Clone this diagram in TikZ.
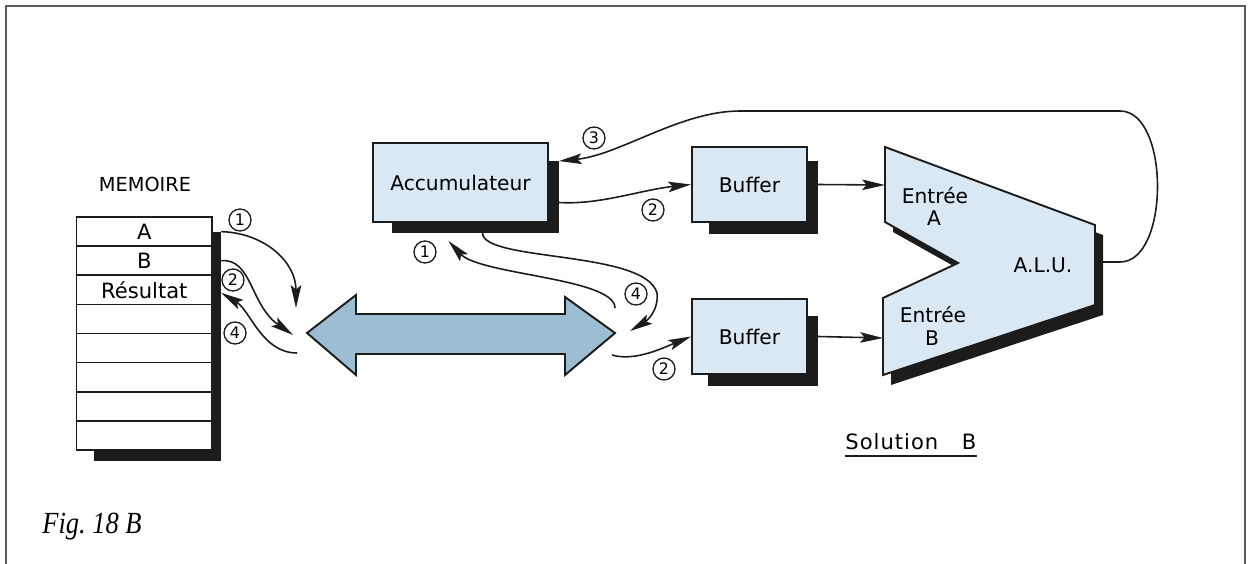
\documentclass[tikz,border=0pt]{standalone}
\usepackage{fontspec}
\setmainfont{DejaVu Sans}
\newfontfamily\capfont[FakeStretch=0.86]{Liberation Serif}
\usetikzlibrary{arrows.meta,backgrounds,calc}
\definecolor{boxblue}{RGB}{217,232,242}
\definecolor{busblue}{RGB}{157,189,211}
\definecolor{ink}{RGB}{28,28,28}
\definecolor{framegray}{RGB}{90,90,90}
\begin{document}
\begin{tikzpicture}[x=0.02cm,y=-0.02cm,
  box/.style={draw=ink, line width=1.1pt, fill=boxblue, inner sep=0pt, font=\fontsize{11.5}{13}\selectfont},
  memrow/.style={draw=ink, line width=0.9pt, fill=white, minimum width=2.72cm, minimum height=0.5825cm, inner sep=0pt, font=\fontsize{12}{14}\selectfont},
  conn/.style={draw=ink, line width=0.9pt, -{Stealth[length=13pt,width=6pt,inset=2.5pt]}},
  num/.style={circle, draw=ink, line width=0.75pt, minimum size=0.44cm, inner sep=0pt, font=\fontsize{9}{10}\selectfont},
  shade/.style={fill=ink},
  lbl/.style={inner sep=0pt, font=\fontsize{11.5}{13}\selectfont}]
\useasboundingbox (0,0) rectangle (1249,564);

% frame
\draw[framegray, line width=1pt] (6,564) -- (6,6) -- (1245,6) -- (1245,564);

% memory
\node[lbl, font=\fontsize{11}{13}\selectfont] (memtitle) at (145,184) {MEMOIRE};
\node[memrow] (memA) at (144.3,231.6) {A};
\node[memrow] (memB) at (144.3,260.7) {B};
\node[memrow] (memR) at (144.3,289.8) {Résultat};
\node[memrow] (mem4) at (144.3,319.0) {};
\node[memrow] (mem5) at (144.3,348.1) {};
\node[memrow] (mem6) at (144.3,377.2) {};
\node[memrow] (mem7) at (144.3,406.3) {};
\node[memrow] (mem8) at (144.3,435.4) {};
\begin{scope}[on background layer]
  \fill[shade] ([shift={(18,16)}]memA.north west) rectangle ([shift={(8,10)}]mem8.south east);
\end{scope}

% boxes
\node[box, minimum width=3.5cm, minimum height=1.58cm] (acc) at (460.5,182.5) {Accumulateur};
\node[box, minimum width=2.3cm, minimum height=1.5cm] (bufA) at (749.5,184.5) {Buffer};
\node[box, minimum width=2.3cm, minimum height=1.5cm] (bufB) at (749.5,336.5) {Buffer};
\begin{scope}[on background layer]
  \fill[shade] ([shift={(20,19)}]acc.north west) rectangle ([shift={(10,10)}]acc.south east);
  \fill[shade] ([shift={(18,15)}]bufA.north west) rectangle ([shift={(10,11)}]bufA.south east);
  \fill[shade] ([shift={(17,18)}]bufB.north west) rectangle ([shift={(10,11)}]bufB.south east);
\end{scope}

% ALU
\fill[shade] (893,157) -- (1103,235) -- (1103,315) -- (891,385) -- (891,308) -- (966,273) -- (893,232) -- cycle;
\draw[draw=ink, line width=1.1pt, fill=boxblue] (885,147) -- (1095,225) -- (1095,305) -- (883,375) -- (883,298) -- (958,263) -- (885,222) -- cycle;
\node[lbl] (entA) at (935,196) {Entrée};
\node[lbl] (entAl) at (934,218) {A};
\node[lbl] (alu) at (1043,265) {A.L.U.};
\node[lbl] (entB) at (933,315) {Entrée};
\node[lbl] (entBl) at (932,338) {B};
\coordinate (aluA) at (885,185);
\coordinate (aluB) at (883,338);
\coordinate (aluOut) at (1103,262);

% bus
\draw[draw=ink, line width=1.1pt, fill=busblue] (307,333) -- (356,295) -- (356,314) -- (565,314) -- (565,297) -- (615,333) -- (565,375) -- (565,354) -- (356,354) -- (356,375) -- cycle;
\coordinate (busL1) at (296,308);
\coordinate (busL2) at (293,335);
\coordinate (busL4) at (297,353);
\coordinate (busR1) at (615,308);
\coordinate (busR4) at (630,331);
\coordinate (busR2) at (612,355);

% memory connectors
\draw[conn] ([xshift=8*0.02cm]memA.east) .. controls (265,233) and (296,262) .. (busL1);
\draw[conn] ([xshift=8*0.02cm]memB.east) .. controls (252,258) and (250,305) .. (busL2);
\draw[conn] (busL4) .. controls (262,353) and (250,310) .. ([xshift=8*0.02cm, yshift=-3*0.02cm]memR.east);
\node[num] (n1a) at (240,220) {1};
\node[num] (n2a) at (233,280) {2};
\node[num] (n4a) at (235,333) {4};

% accumulator / buffer connectors
\draw[conn] (busR1) .. controls (615,278) and (480,275) .. ([shift={(-12,18)}]acc.south);
\draw[conn] ([shift={(22,10)}]acc.south) .. controls (483,262) and (645,250) .. (657,293) .. controls (659,312) and (645,322) .. (busR4);
\draw[conn] (busR2) .. controls (635,362) and (665,347) .. (bufB.west);
\draw[conn] ([shift={(10,20)}]acc.east) .. controls (600,205) and (640,190) .. (bufA.west);
\draw[conn] (aluOut) -- (1120,262) .. controls (1170,262) and (1170,111) .. (1120,111) -- (740,111) .. controls (680,111) and (620,155) .. ([shift={(10,19)}]acc.north east);
\draw[conn] ([xshift=10*0.02cm]bufA.east) -- (aluA);
\draw[conn] ([xshift=10*0.02cm]bufB.east) -- (aluB);
\node[num] (n3) at (594,138) {3};
\node[num] (n2b) at (653,210) {2};
\node[num] (n1b) at (425,252) {1};
\node[num] (n4b) at (636,294) {4};
\node[num] (n2c) at (664,369) {2};

% titles
\node[inner sep=0pt, anchor=west, font=\fontsize{12}{14}\selectfont] (sol) at (845,442) {\makebox[1.86cm][s]{S\hfill o\hfill l\hfill u\hfill t\hfill i\hfill o\hfill n}};
\node[inner sep=0pt, font=\fontsize{12}{14}\selectfont] (solB) at (969,442) {B};
\draw[ink, line width=0.9pt] (845,456) -- (977,456);
\node[inner sep=0pt, anchor=west, font=\fontsize{17.5}{20}\capfont\itshape] (fig) at (42,527) {Fig.\ 18\ B};
\end{tikzpicture}
\end{document}
